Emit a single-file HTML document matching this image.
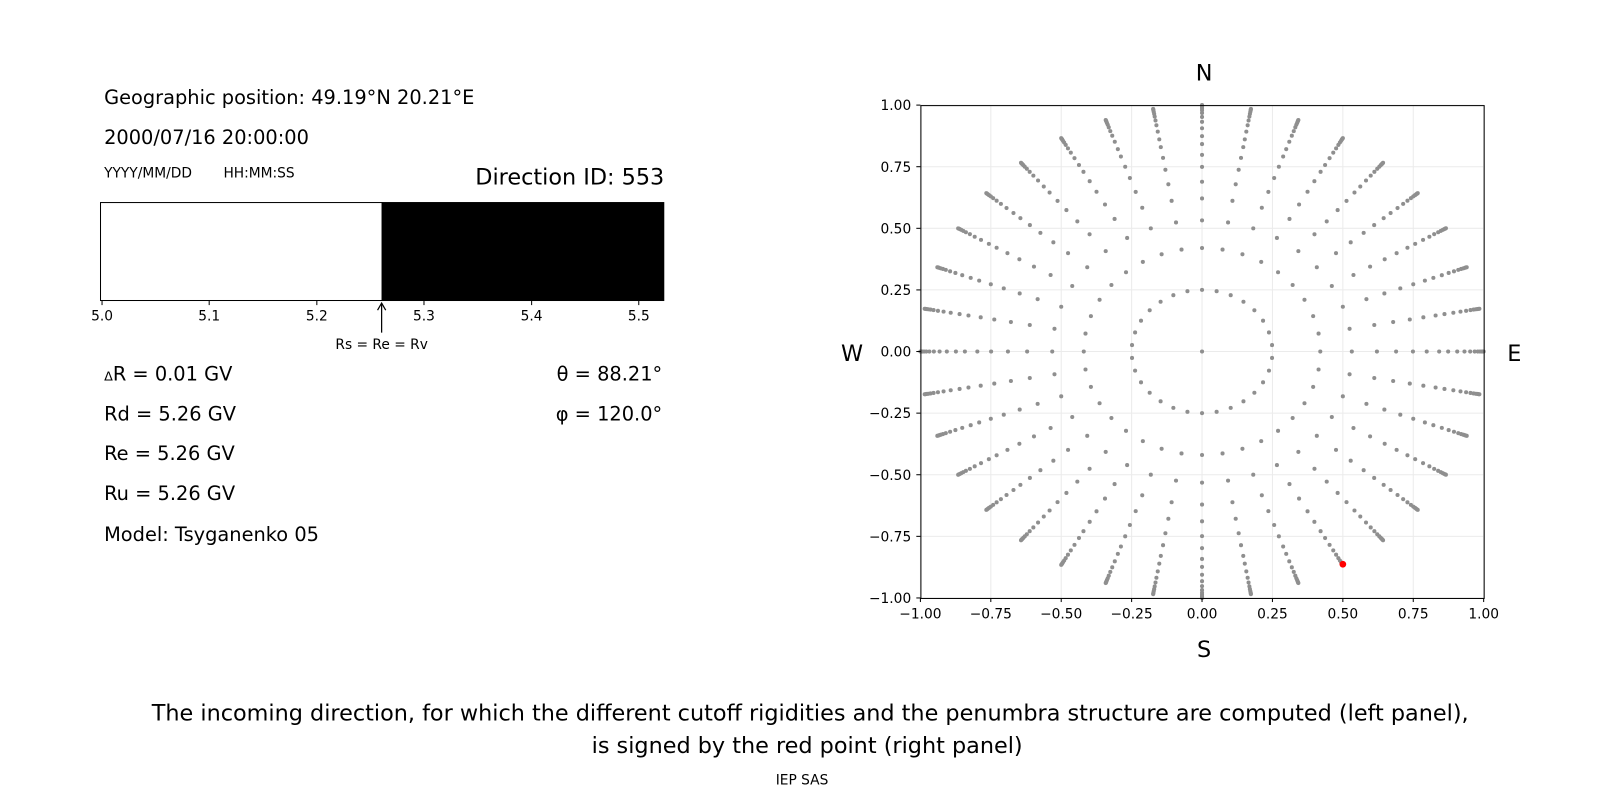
<!DOCTYPE html>
<html><head><meta charset="utf-8"><style>
body{margin:0;background:#fff;overflow:hidden;}
svg{display:block;font-family:"DejaVu Sans","Liberation Sans",sans-serif;}
</style></head><body>
<svg id="s" width="1600" height="800" viewBox="0 0 1600 800" xmlns="http://www.w3.org/2000/svg">
<rect width="1600" height="800" fill="#fff"/>
<g transform="scale(1.0204)">
<!-- Left panel -->
<text x="102" y="102" font-size="19">Geographic position: 49.19°N 20.21°E</text>
<text x="102" y="141" font-size="19">2000/07/16 20:00:00</text>
<text x="102" y="174" font-size="13.5">YYYY/MM/DD</text>
<text x="219" y="174" font-size="13.5">HH:MM:SS</text>
<text x="651" y="181" font-size="21.9" text-anchor="end">Direction ID: 553</text>
<rect x="98.5" y="198.5" width="276" height="96" fill="#fff" stroke="#000"/>
<rect x="374" y="198" width="277" height="97" fill="#000"/>
<g font-size="13.5" text-anchor="middle">
<line x1="100" y1="295" x2="100" y2="299" stroke="#000"/><text x="100" y="314">5.0</text>
<line x1="205" y1="295" x2="205" y2="299" stroke="#000"/><text x="205" y="314">5.1</text>
<line x1="310.5" y1="295" x2="310.5" y2="299" stroke="#000"/><text x="310.5" y="314">5.2</text>
<line x1="415.5" y1="295" x2="415.5" y2="299" stroke="#000"/><text x="415.5" y="314">5.3</text>
<line x1="521" y1="295" x2="521" y2="299" stroke="#000"/><text x="521" y="314">5.4</text>
<line x1="626" y1="295" x2="626" y2="299" stroke="#000"/><text x="626" y="314">5.5</text>
<text x="374" y="342">Rs = Re = Rv</text>
</g>
<line x1="374" y1="326" x2="374" y2="298" stroke="#000" stroke-width="1.2"/>
<path d="M370,304 L374,297 L378,304" fill="none" stroke="#000" stroke-width="1.2"/>
<g font-size="19">
<text x="102" y="373"><tspan font-size="12.5">Δ</tspan>R = 0.01 GV</text>
<text x="102" y="412">Rd = 5.26 GV</text>
<text x="102" y="451">Re = 5.26 GV</text>
<text x="102" y="490">Ru = 5.26 GV</text>
<text x="102" y="530">Model: Tsyganenko 05</text>
<text x="649" y="373" text-anchor="end">θ = 88.21°</text>
<text x="649" y="412" text-anchor="end">φ = 120.0°</text>
</g>
<!-- Right panel -->
<g id="grid" stroke="#ebebeb" stroke-width="1"></g>
<g id="dots" fill="#8f8f8f"></g>
<circle cx="1316" cy="553" r="3.3" fill="#f00"/>
<rect x="902.5" y="103.5" width="552" height="483" fill="none" stroke="#000" stroke-width="1"/>
<g id="ticks" font-size="13.5"></g>
<g font-size="21.9" text-anchor="middle">
<text x="1180" y="79">N</text>
<text x="1180" y="644">S</text>
<text x="835" y="354">W</text>
<text x="1484" y="354">E</text>
</g>
<!-- Caption -->
<g text-anchor="middle">
<text x="794" y="706" font-size="21.9">The incoming direction, for which the different cutoff rigidities and the penumbra structure are computed (left panel),</text>
<text x="791" y="738" font-size="21.9">is signed by the red point (right panel)</text>
<text x="786" y="769" font-size="13.5">IEP SAS</text>
</g>
</g>
</svg>
<script>
(function(){
var NS="http://www.w3.org/2000/svg";
var cx=1178,cy=344.5,sx=276,sy=241.5;
var dots=document.getElementById('dots'),grid=document.getElementById('grid'),ticks=document.getElementById('ticks');
function el(p,n,a){var e=document.createElementNS(NS,n);for(var k in a)e.setAttribute(k,a[k]);p.appendChild(e);return e;}
function dot(x,y){el(dots,'circle',{cx:(cx+x*sx).toFixed(1),cy:(cy-y*sy).toFixed(1),r:2.0});}
var vals=[-1,-0.75,-0.5,-0.25,0,0.25,0.5,0.75,1];
vals.forEach(function(v){
 var x=cx+v*sx,y=cy-v*sy;
 el(grid,'line',{x1:x,y1:103,x2:x,y2:586});
 el(grid,'line',{x1:902,y1:y,x2:1454,y2:y});
 el(ticks,'line',{x1:x,y1:586,x2:x,y2:590,stroke:'#000'});
 el(ticks,'line',{x1:898,y1:y,x2:902,y2:y,stroke:'#000'});
 var t=el(ticks,'text',{x:x,y:606,'text-anchor':'middle'});t.textContent=(v<0?'\u2212':'')+Math.abs(v).toFixed(2);
 var t2=el(ticks,'text',{x:893,y:y+5,'text-anchor':'end'});t2.textContent=(v<0?'\u2212':'')+Math.abs(v).toFixed(2);
});
var radii=[0.42,0.532,0.621,0.689,0.749,0.798,0.842,0.874,0.906,0.932,0.952,0.968,0.979,0.987,0.993,0.997,1.0];
for(var i=0;i<36;i++){var a=i*Math.PI/18;
 radii.forEach(function(r){dot(r*Math.sin(a),r*Math.cos(a));});}
for(var j=0;j<30;j++){var b=j*Math.PI/15;dot(0.25*Math.sin(b),0.25*Math.cos(b));}
dot(0,0);
})();
</script>
</body></html>
